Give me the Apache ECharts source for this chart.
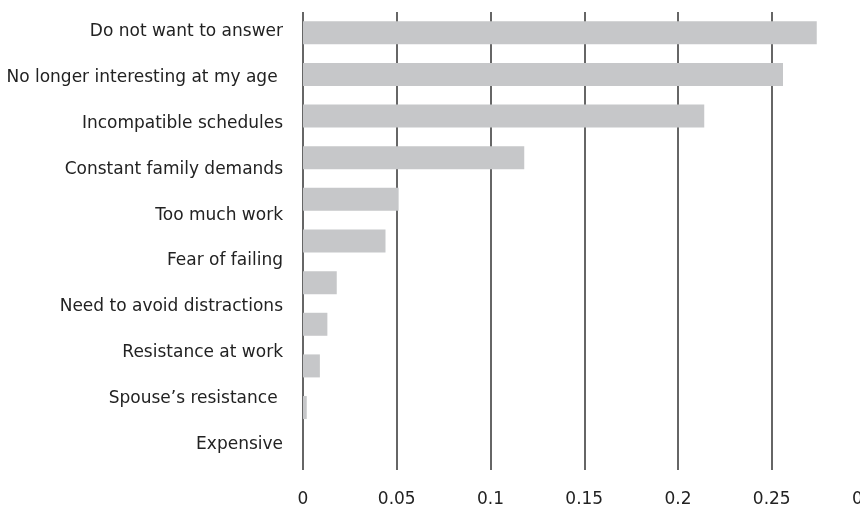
<!DOCTYPE html>
<html><head><meta charset="utf-8">
<script src="https://cdn.jsdelivr.net/npm/echarts@6/dist/echarts.min.js"></script>
<style>html,body{margin:0;padding:0;background:#fff}#c{width:860px;height:508px}</style>
</head><body><div id="c"></div>
<script>
const categories = ["Do not want to answer","No longer interesting at my age ","Incompatible schedules","Constant family demands","Too much work","Fear of failing","Need to avoid distractions","Resistance at work","Spouse\u2019s resistance ","Expensive"];
const values = [0.274,0.256,0.214,0.118,0.051,0.044,0.018,0.013,0.009,0.002];
const xTicks = {min:0, max:0.3, interval:0.05};
const FONT = 'DejaVu Sans';
const chart = echarts.init(document.getElementById('c'), null, {renderer:'canvas'});
chart.setOption({
  animation:false,
  grid:[
    {left:303, right:-5.5, top:9, height:458, outerBoundsMode:'none', containLabel:false},
    {left:303, right:-5.5, top:12, height:458, outerBoundsMode:'none', containLabel:false}
  ],
  xAxis:[
    {gridIndex:0, type:'value', min:xTicks.min, max:xTicks.max, interval:xTicks.interval, show:false},
    {gridIndex:1, type:'value', min:xTicks.min, max:xTicks.max, interval:xTicks.interval,
     axisLine:{show:false}, axisTick:{show:false},
     splitLine:{show:true, lineStyle:{color:'#666', width:2}},
     axisLabel:{color:'#222', fontFamily:FONT, fontSize:17, margin:21, hideOverlap:false,
       formatter:v=>String(+v.toFixed(2))}}
  ],
  yAxis:[
    {gridIndex:0, type:'category', inverse:true, data:categories,
     axisLine:{show:false}, axisTick:{show:false}, splitLine:{show:false},
     axisLabel:{color:'#222', fontFamily:FONT, fontSize:17, margin:20, interval:0}},
    {gridIndex:1, type:'category', inverse:true, data:categories.concat(['']),
     axisLine:{show:false}, axisTick:{show:false}, splitLine:{show:false},
     axisLabel:{show:false}}
  ],
  series:[{
    type:'bar', xAxisIndex:1, yAxisIndex:1, data:values, barWidth:23,
    itemStyle:{color:'#c6c7c9'}
  }]
});
</script></body></html>
